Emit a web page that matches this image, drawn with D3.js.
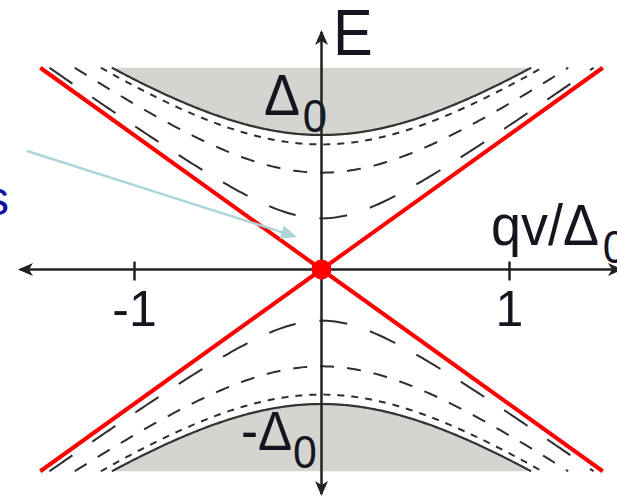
<!DOCTYPE html>
<html>
<head>
<meta charset="utf-8">
<script src="https://cdn.jsdelivr.net/npm/d3@7"></script>
<style>
  html, body { margin: 0; padding: 0; background: #fff; }
  svg { display: block; }
  text { font-family: "Liberation Sans Narrow", "Arial Narrow", "Liberation Sans", sans-serif; fill: #15151f; }
</style>
</head>
<body>
<svg id="chart" width="617" height="498"></svg>
<script>
// Momentum ticks along the qv/Δ0 axis
const qTicks = [-1, 1];
const qTickLabels = ["-1", "1"];
// Gap edge (in units of Δ0) and energies at q = 0 of the dashed in-gap branches
const gapEdge = 1;
const branchGaps = [0.93, 0.72, 0.38];
const branchDash = ["7,7", "14,13", "28,24"];
// Energy window shown, in units of Δ0
const energyMax = 1.5;

const svg = d3.select("#chart");
const W = 617, H = 498;

const x = d3.scaleLinear().domain([-1, 1]).range([134, 509]);
const y = d3.scaleLinear().domain([-1, 1]).range([404, 135]);
const x0 = x(0), y0 = y(0);

// Dispersion E(q) = sqrt(Δ² + (qv)²) for a branch of gap Δ
const branch = (gap, sign) => q => sign * Math.sqrt(gap * gap + q * q);
const qLimit = gap => Math.sqrt(energyMax * energyMax - gap * gap);
const samples = (lim) => d3.range(0, 201).map(i => -lim + (2 * lim) * i / 200);

// Continuum above +Δ0 and below -Δ0 (grey)
[1, -1].forEach(sign => {
  const f = branch(gapEdge, sign);
  const qs = samples(qLimit(gapEdge));
  svg.append("path")
    .datum(qs)
    .attr("d", d3.area()
      .x(q => x(q))
      .y0(() => y(sign * energyMax))
      .y1(q => y(f(q))))
    .attr("fill", "#d4d4d0");
  svg.append("path")
    .datum(qs)
    .attr("d", d3.line().x(q => x(q)).y(q => y(f(q))))
    .attr("fill", "none")
    .attr("stroke", "#333")
    .attr("stroke-width", 2.2);
});

// Dashed in-gap branches
branchGaps.forEach((gap, i) => {
  [1, -1].forEach(sign => {
    const f = branch(gap, sign);
    svg.append("path")
      .datum(samples(qLimit(gap)))
      .attr("d", d3.line().x(q => x(q)).y(q => y(f(q))))
      .attr("fill", "none")
      .attr("stroke", "#2e2e2e")
      .attr("stroke-width", 2)
      .attr("stroke-dasharray", branchDash[i]);
  });
});

// Text helper: slightly condensed lettering
const label = (tx, ty) => svg.append("text")
  .attr("transform", `translate(${tx},${ty}) scale(0.93,1)`);

// Gap labels
const upper = label(264, 115);
upper.append("tspan").attr("font-size", 58).text("Δ");
upper.append("tspan").attr("font-size", 47).attr("dy", 17).attr("dx", 3).text("0");

const lower = label(241, 450);
lower.append("tspan").attr("font-size", 55).text("-Δ");
lower.append("tspan").attr("font-size", 46).attr("dy", 18).attr("dx", 1).text("0");

// Axis labels
label(333, 55).attr("font-size", 64).text("E");
const qLabel = label(491, 245);
qLabel.append("tspan").attr("font-size", 58).text("qv/Δ");
qLabel.append("tspan").attr("font-size", 46).attr("dy", 18).attr("dx", 4).text("0");

// Axes
const axisColor = "#222";
svg.append("line").attr("x1", 20).attr("x2", W + 4).attr("y1", y0).attr("y2", y0)
  .attr("stroke", axisColor).attr("stroke-width", 2.5);
svg.append("line").attr("x1", x0).attr("x2", x0).attr("y1", 32).attr("y2", 494)
  .attr("stroke", axisColor).attr("stroke-width", 2.5);

const arrow = (tx, ty, dx, dy) => {
  // arrowhead pointing along (dx, dy)
  const len = 15, half = 6.5, notch = 4;
  const px = -dy, py = dx;
  const bx = tx - dx * len, by = ty - dy * len;
  const nx = tx - dx * (len - notch), ny = ty - dy * (len - notch);
  return `M${tx},${ty}L${bx + px * half},${by + py * half}L${nx},${ny}L${bx - px * half},${by - py * half}Z`;
};
[[18, y0, -1, 0], [W + 6, y0, 1, 0], [x0, 30, 0, -1], [x0, 496, 0, 1]].forEach(a => {
  svg.append("path").attr("d", arrow(...a)).attr("fill", axisColor);
});

const xAxis = svg.append("g")
  .attr("transform", `translate(0,${y0})`)
  .call(d3.axisBottom(x)
    .tickValues(qTicks)
    .tickFormat((d, i) => qTickLabels[i])
    .tickSize(11)
    .tickPadding(10));
xAxis.select(".domain").remove();
xAxis.selectAll(".tick line")
  .attr("y1", -8).attr("y2", 11)
  .attr("stroke", axisColor).attr("stroke-width", 2.5);
xAxis.selectAll(".tick text")
  .attr("font-size", 50)
  .attr("font-family", null)
  .attr("fill", "#15151f");

// Linear Dirac cone E = ±|qv|
const coneQ = [-energyMax, 0, energyMax];
[1, -1].forEach(sign => {
  svg.append("path")
    .datum(coneQ)
    .attr("d", d3.line().x(q => x(q)).y(q => y(sign * Math.abs(q))))
    .attr("fill", "none")
    .attr("stroke", "#ff0000")
    .attr("stroke-width", 4);
});
svg.append("circle").attr("cx", x0).attr("cy", y0).attr("r", 10).attr("fill", "#ff0000");

// Pointer toward the Dirac point
const pFrom = [27, 151], pTo = [297, 237];
const ang = Math.atan2(pTo[1] - pFrom[1], pTo[0] - pFrom[0]);
const ux = Math.cos(ang), uy = Math.sin(ang);
svg.append("line")
  .attr("x1", pFrom[0]).attr("y1", pFrom[1])
  .attr("x2", pTo[0] - ux * 12).attr("y2", pTo[1] - uy * 12)
  .attr("stroke", "#add6da").attr("stroke-width", 2.5);
{
  const len = 16, half = 7;
  const bx = pTo[0] - ux * len, by = pTo[1] - uy * len;
  svg.append("path")
    .attr("d", `M${pTo[0]},${pTo[1]}L${bx - uy * half},${by + ux * half}L${bx + uy * half},${by - ux * half}Z`)
    .attr("fill", "#add6da");
}

// Callout text running in from the left edge
svg.append("text")
  .attr("x", 9).attr("y", 215)
  .attr("text-anchor", "end")
  .attr("font-size", 48)
  .style("fill", "#1010a0")
  .text("s");
</script>
</body>
</html>
